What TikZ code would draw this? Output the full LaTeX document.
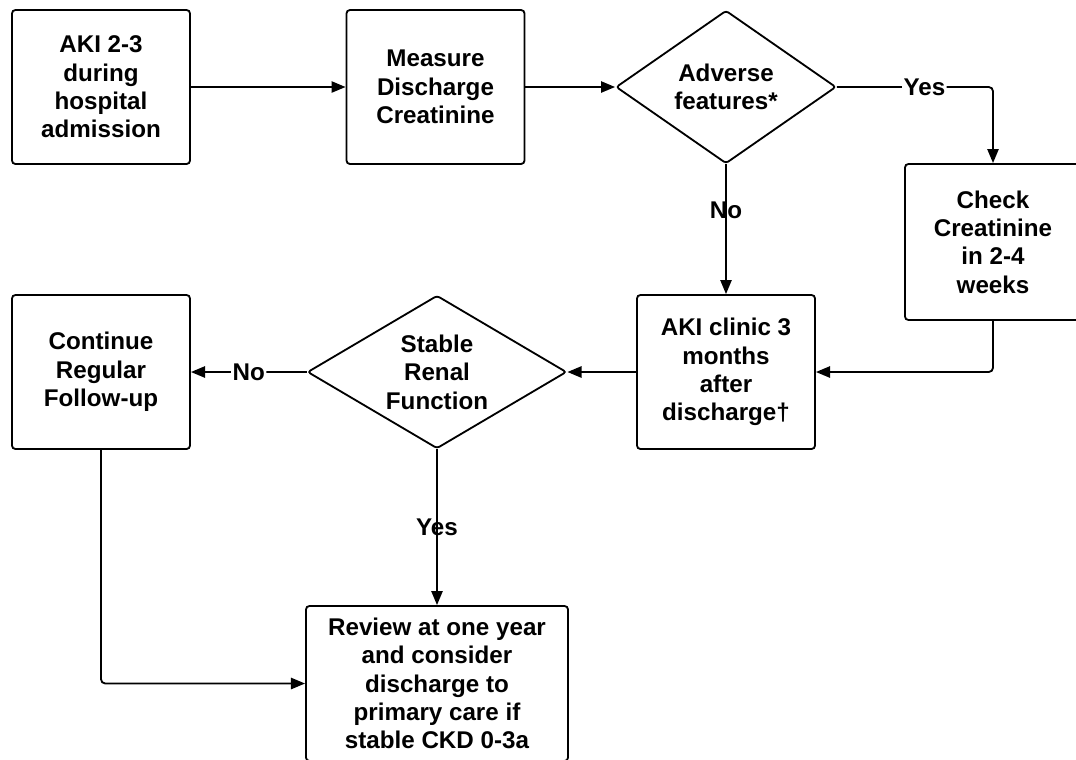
\documentclass[tikz,border=0pt]{standalone}
\usepackage{fontspec}
\setmainfont{Liberation Sans}
\usepackage{tikz}
\usetikzlibrary{shapes.geometric, arrows.meta}

\begin{document}
\begin{tikzpicture}[x=0.025cm, y=-0.025cm]
    % Styles
    \tikzstyle{every node} = [font=\fontsize{17.2}{20.2}\selectfont\bfseries]
    \tikzstyle{box} = [rectangle, draw=black, line width=1.3pt, rounded corners=2.5pt, minimum width=4.45cm, minimum height=3.85cm, align=center, inner sep=2pt]
    \tikzstyle{decision} = [diamond, aspect=1.7, draw=black, line width=1.3pt, rounded corners=2pt, align=center, inner sep=0pt, minimum height=3.825cm]
    \tikzstyle{arrow} = [->, >={Triangle[length=10pt, width=8pt]}, line width=1.3pt, rounded corners=3pt]
    \tikzstyle{hlabel} = [fill=white, inner sep=1pt]
    \tikzstyle{vlabel} = [inner sep=1pt]

    \useasboundingbox (0,0) rectangle (1076,759);

    % Nodes
    \node[box] (aki) at (101, 87) {AKI 2-3\\during\\hospital\\admission};
    \node[box] (measure) at (435.5, 87) {Measure\\Discharge\\Creatinine};
    \node[decision, minimum width=5.5cm] (adverse) at (726, 87) {Adverse\\features*};
    \node[box, minimum width=4.4cm, minimum height=3.9cm] (check) at (993, 242) {Check\\Creatinine\\in 2-4\\weeks};
    \node[box] (clinic) at (726, 372) {AKI clinic 3\\months\\after\\discharge\textdagger};
    \node[decision, minimum width=6.475cm] (stable) at (437, 372) {Stable\\Renal\\Function};
    \node[box] (continue) at (101, 372) {Continue\\Regular\\Follow-up};
    \node[box, minimum width=6.55cm, minimum height=3.875cm] (review) at (437, 683.5) {Review at one year\\and consider\\discharge to\\primary care if\\stable CKD 0-3a};

    % Arrows
    \draw[arrow] (aki) -- (measure);
    \draw[arrow] (measure) -- (adverse);
    \draw[arrow] (adverse.east) -| node[hlabel, pos=0.28] {Yes} (check.north);
    \draw[arrow] (adverse.south) -- node[vlabel, pos=0.35] {No} (clinic.north);
    \draw[arrow] (check.south) |- (clinic.east);
    \draw[arrow] (clinic) -- (stable.east);
    \draw[arrow] (stable.west) -- node[hlabel] {No} (continue.east);
    \draw[arrow] (stable.south) -- node[vlabel] {Yes} (review.north);
    \draw[arrow] (continue.south) |- (review.west);
\end{tikzpicture}
\end{document}
